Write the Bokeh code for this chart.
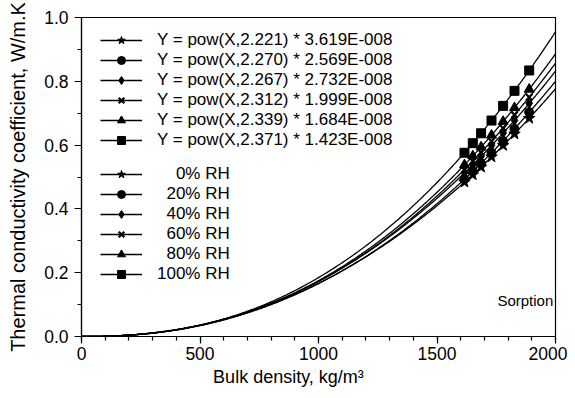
import numpy as np
from bokeh.plotting import figure
from bokeh.models import (Legend, LegendItem, Label, Range1d, FixedTicker,
                          NumeralTickFormatter)
from bokeh.embed import file_html
from bokeh.resources import INLINE

FONT = "Liberation Sans"

# ---- data ----
density = [1616, 1651, 1686, 1730, 1779, 1827, 1889]
k_0rh = [0.484, 0.507, 0.531, 0.563, 0.599, 0.635, 0.684]
k_20rh = [0.493, 0.518, 0.543, 0.576, 0.613, 0.651, 0.703]
k_40rh = [0.513, 0.538, 0.565, 0.599, 0.638, 0.677, 0.731]
k_60rh = [0.523, 0.550, 0.577, 0.612, 0.653, 0.695, 0.750]
k_80rh = [0.538, 0.566, 0.594, 0.631, 0.674, 0.717, 0.775]
k_100rh = [0.576, 0.606, 0.637, 0.677, 0.723, 0.770, 0.834]

rh_labels = ["\u2007\u20070% RH", "\u200720% RH", "\u200740% RH",
             "\u200760% RH", "\u200780% RH", "100% RH"]
fit_exponent = [2.221, 2.270, 2.267, 2.312, 2.339, 2.371]
fit_coef = [3.619e-8, 2.569e-8, 2.732e-8, 1.999e-8, 1.684e-8, 1.423e-8]
fit_labels = ["Y = pow(X,2.221) * 3.619E-008",
              "Y = pow(X,2.270) * 2.569E-008",
              "Y = pow(X,2.267) * 2.732E-008",
              "Y = pow(X,2.312) * 1.999E-008",
              "Y = pow(X,2.339) * 1.684E-008",
              "Y = pow(X,2.371) * 1.423E-008"]
series = [k_0rh, k_20rh, k_40rh, k_60rh, k_80rh, k_100rh]
markers = ["star", "circle", "diamond", "x", "triangle", "square"]
marker_sizes = [12, 9, 10, 9, 10, 9]

x_ticks = [0, 500, 1000, 1500, 2000]
y_ticks = [0.0, 0.2, 0.4, 0.6, 0.8, 1.0]
# trailing figure spaces shift the centred title left, as in the original
x_title = "Bulk density, kg/m³" + "\u2007" * 6
y_title = "Thermal conductivity coefficient, W/m.K"

p = figure(width=567, height=390, output_backend="svg", toolbar_location=None,
           x_range=Range1d(0, 2000), y_range=Range1d(0, 1.0),
           min_border_left=81, min_border_right=12, min_border_top=17,
           min_border_bottom=54, background_fill_color="white",
           border_fill_color="white")

p.xgrid.visible = False
p.ygrid.visible = False
p.outline_line_color = "black"
p.outline_line_width = 1.2

xc = np.linspace(0, 2000, 401)
line_rs, mark_rs = [], []
for a, b, ys, m, ms in zip(fit_coef, fit_exponent, series, markers, marker_sizes):
    lr = p.line(xc, a * xc ** b, line_color="black", line_width=1.3)
    sr = p.scatter(density, ys, marker=m, size=ms, fill_color="black",
                   line_color="black", line_width=2.2 if m == "x" else 1)
    line_rs.append(lr)
    mark_rs.append(sr)

for ax in (p.xaxis[0], p.yaxis[0]):
    ax.axis_line_width = 1.2
    ax.major_tick_line_width = 1.2
    ax.minor_tick_line_width = 1.2
    ax.major_tick_in = 0
    ax.minor_tick_in = 0
    ax.major_tick_out = 7
    ax.minor_tick_out = 4
    ax.major_label_text_font = FONT
    ax.major_label_text_font_size = "17.5px"
    ax.major_label_text_color = "black"
    ax.axis_label_text_font = FONT
    ax.axis_label_text_font_style = "normal"
    ax.axis_label_text_color = "black"

p.xaxis[0].ticker = FixedTicker(ticks=x_ticks, minor_ticks=list(range(0, 2001, 100)))
p.yaxis[0].ticker = FixedTicker(ticks=y_ticks,
                                minor_ticks=[round(0.1 * i, 1) for i in range(11)])
p.yaxis[0].formatter = NumeralTickFormatter(format="0.0")
p.xaxis[0].axis_label = x_title
p.xaxis[0].axis_label_text_font_size = "18px"
p.yaxis[0].axis_label = y_title
p.yaxis[0].axis_label_text_font_size = "20px"
p.xaxis[0].major_label_standoff = 3
p.xaxis[0].axis_label_standoff = 4
p.yaxis[0].major_label_standoff = 6
p.yaxis[0].axis_label_standoff = 12


def make_legend(labels, loc):
    items = [LegendItem(label=l, renderers=[lr, sr])
             for l, lr, sr in zip(labels, line_rs, mark_rs)]
    lg = Legend(items=items, location=loc, orientation="vertical",
                glyph_width=42, glyph_height=20, spacing=0, padding=0,
                margin=0, label_standoff=15, label_height=20,
                label_text_font=FONT, label_text_font_size="17px",
                label_text_color="black", background_fill_alpha=0,
                border_line_alpha=0)
    return lg

p.add_layout(make_legend(fit_labels, (19, 186)))
p.add_layout(make_legend(rh_labels, (19, 52)))

p.add_layout(Label(x=1755, y=0.113, text="Sorption", text_font=FONT,
                   text_font_size="15px", text_baseline="middle",
                   text_color="black"))

open("out.html", "w").write(file_html(p, INLINE))
